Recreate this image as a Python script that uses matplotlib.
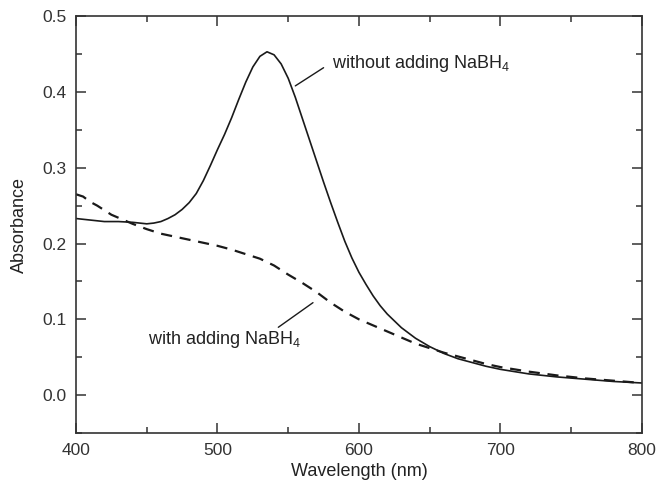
import matplotlib
matplotlib.use("Agg")
import matplotlib.pyplot as plt
from matplotlib.ticker import MultipleLocator

plt.rcParams["font.family"] = ["Liberation Sans", "DejaVu Sans"]
plt.rcParams["mathtext.fontset"] = "custom"
plt.rcParams["mathtext.rm"] = "Liberation Sans"

# without adding NaBH4 (solid)
wl_without = [400, 410, 420, 430, 440, 450, 455, 460, 465, 470, 475, 480, 485,
              490, 495, 500, 505, 510, 515, 520, 525, 530, 535, 540, 545, 550,
              555, 560, 565, 570, 575, 580, 585, 590, 595, 600, 605, 610, 615,
              620, 630, 640, 650, 660, 670, 680, 690, 700, 720, 740, 760, 780,
              800]
abs_without = [0.233, 0.231, 0.229, 0.229, 0.228, 0.226, 0.227, 0.229, 0.233,
               0.238, 0.245, 0.254, 0.266, 0.283, 0.303, 0.324, 0.344, 0.366,
               0.390, 0.413, 0.433, 0.447, 0.453, 0.449, 0.437, 0.418, 0.393,
               0.365, 0.337, 0.309, 0.281, 0.254, 0.228, 0.203, 0.181, 0.162,
               0.146, 0.131, 0.118, 0.107, 0.089, 0.075, 0.064, 0.055, 0.048,
               0.043, 0.038, 0.034, 0.028, 0.024, 0.021, 0.018, 0.016]

# with adding NaBH4 (dashed)
wl_with = [400, 405, 410, 415, 420, 425, 430, 440, 450, 460, 470, 480, 490,
           500, 510, 520, 530, 540, 550, 560, 570, 580, 590, 600, 610, 620,
           630, 640, 650, 660, 670, 680, 690, 700, 720, 740, 760, 780, 800]
abs_with = [0.265, 0.262, 0.255, 0.250, 0.244, 0.238, 0.234, 0.226, 0.219,
            0.213, 0.209, 0.205, 0.201, 0.197, 0.192, 0.186, 0.180, 0.171,
            0.159, 0.148, 0.136, 0.122, 0.110, 0.100, 0.092, 0.084, 0.076,
            0.068, 0.062, 0.056, 0.051, 0.046, 0.041, 0.037, 0.031, 0.026,
            0.022, 0.019, 0.016]

fig = plt.figure(figsize=(6.57, 4.90), dpi=100)
ax = fig.add_axes([0.1157, 0.1163, 0.8613, 0.8507])

ink = "#1a1a1a"
ax.plot(wl_without, abs_without, color=ink, lw=1.2)
ax.plot(wl_with, abs_with, color=ink, lw=1.6, linestyle=(0, (5, 3.5)))

ax.set_xlim(400, 800)
ax.set_ylim(-0.05, 0.5)
ax.xaxis.set_major_locator(MultipleLocator(100))
ax.xaxis.set_minor_locator(MultipleLocator(50))
ax.yaxis.set_major_locator(MultipleLocator(0.1))
ax.yaxis.set_minor_locator(MultipleLocator(0.05))
ax.yaxis.set_major_formatter(plt.FormatStrFormatter("%.1f"))
ax.tick_params(which="both", direction="in", top=True, right=True,
               labelsize=12.5, colors="#333333", width=1.1, pad=7)
ax.tick_params(which="major", length=7)
ax.tick_params(which="minor", length=4.5)
for sp in ax.spines.values():
    sp.set_linewidth(1.2)
    sp.set_color("#333333")

ax.set_xlabel("Wavelength (nm)", fontsize=13, color="#222222", labelpad=4)
ax.set_ylabel("Absorbance", fontsize=13, color="#222222", labelpad=10)

# labels with leader lines
ax.text(581, 0.437, "without adding NaBH$_4$", fontsize=13, color="#222222",
        va="center", ha="left")
ax.annotate("", xy=(555, 0.408), xytext=(575, 0.432),
            arrowprops=dict(arrowstyle="-", color=ink, lw=1.0,
                            shrinkA=0, shrinkB=0))
ax.text(451, 0.074, "with adding NaBH$_4$", fontsize=13, color="#222222",
        va="center", ha="left")
ax.annotate("", xy=(567.5, 0.122), xytext=(543, 0.0895),
            arrowprops=dict(arrowstyle="-", color=ink, lw=1.0,
                            shrinkA=0, shrinkB=0))

fig.savefig("out.png", dpi=100)
